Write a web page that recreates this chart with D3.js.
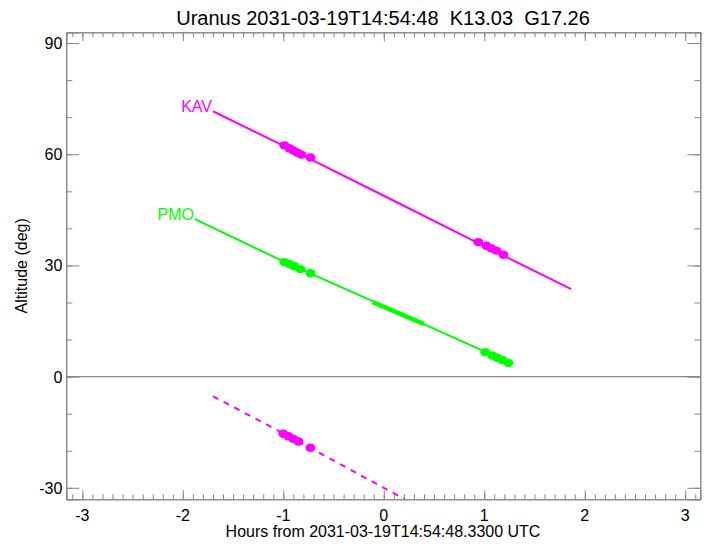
<!DOCTYPE html>
<html>
<head>
<meta charset="utf-8">
<script src="https://cdn.jsdelivr.net/npm/d3@7"></script>
<style>
  body { margin: 0; background: #fff; }
  text { font-family: "Liberation Sans", Arial, sans-serif; }
</style>
</head>
<body>
<svg></svg>
<script>
const width = 708;
const height = 544;

// values
const titleText = "Uranus 2031-03-19T14:54:48  K13.03  G17.26";
const xLabel = "Hours from 2031-03-19T14:54:48.3300 UTC";
const yLabel = "Altitude (deg)";
const xTicks = [-3, -2, -1, 0, 1, 2, 3];
const yTicks = [-30, 0, 30, 60, 90];

const kavLine = [[-1.70, 71.6], [-1.0, 62.3], [0, 48.8], [1.0, 35.2], [1.865, 23.6]];
const kavDots = [[-0.99, 62.4], [-0.94, 61.6], [-0.90, 61.0], [-0.86, 60.4], [-0.82, 59.9], [-0.73, 59.1],
                 [0.94, 36.3], [1.02, 35.3], [1.07, 34.6], [1.12, 34.0], [1.19, 32.9]];
const pmoLine = [[-1.88, 42.5], [-1.0, 31.1], [0, 19.0], [1.0, 6.8], [1.27, 3.6]];
const pmoThick = [[-0.11, 20.1], [0.40, 14.2]];
const pmoDots = [[-0.99, 30.9], [-0.94, 30.4], [-0.89, 29.8], [-0.83, 29.0], [-0.73, 27.9],
                 [1.01, 6.6], [1.08, 5.7], [1.13, 5.1], [1.18, 4.5], [1.24, 3.7]];
const belowLine = [[-1.70, -5.3], [-1.0, -15.3], [0, -30.0], [0.21, -33.1]];
const belowDots = [[-1.0, -15.4], [-0.95, -16.1], [-0.90, -16.8], [-0.85, -17.5], [-0.73, -19.2]];

const svg = d3.select("svg").attr("width", width).attr("height", height);

const x = d3.scaleLinear().domain([-3.16, 3.15]).range([66.3, 700.3]);
const y = d3.scaleLinear().domain([-33.1, 92.9]).range([499.3, 32.3]);

const axisColor = "#888";
const magenta = "#ff00ff";
const green = "#00ff00";

// clip for the plot region
svg.append("clipPath").attr("id", "clip")
  .append("rect")
  .attr("x", x.range()[0]).attr("y", y.range()[1])
  .attr("width", x.range()[1] - x.range()[0])
  .attr("height", y.range()[0] - y.range()[1]);

// axes (ticks on all four sides, pointing inward)
const xMinor = d3.range(-31, 32).map((d) => d / 10).filter((d) => d >= -3.16 && d <= 3.15);
const yMinor = d3.range(-30, 91, 10);

function tickAxis(axis, size, values) {
  return axis.tickValues(values).tickSize(size).tickFormat("");
}

const xb = svg.append("g").attr("transform", `translate(0,${y.range()[0]})`)
  .call(tickAxis(d3.axisTop(x), 5, xMinor));
xb.append("g").call(tickAxis(d3.axisTop(x), 9, xTicks));
const xt = svg.append("g").attr("transform", `translate(0,${y.range()[1]})`)
  .call(tickAxis(d3.axisBottom(x), 5, xMinor));
xt.append("g").call(tickAxis(d3.axisBottom(x), 9, xTicks));

const yl = svg.append("g").attr("transform", `translate(${x.range()[0]},0)`)
  .call(tickAxis(d3.axisRight(y), 6, yMinor));
yl.append("g").call(tickAxis(d3.axisRight(y), 13, yTicks));
const yr = svg.append("g").attr("transform", `translate(${x.range()[1]},0)`)
  .call(tickAxis(d3.axisLeft(y), 6, yMinor));
yr.append("g").call(tickAxis(d3.axisLeft(y), 13, yTicks));

svg.selectAll(".domain").attr("stroke", axisColor);
svg.selectAll(".tick line").attr("stroke", axisColor);

// tick labels
svg.selectAll(".xlab").data(xTicks).enter().append("text")
  .attr("x", (d) => x(d)).attr("y", y.range()[0] + 22)
  .attr("text-anchor", "middle").attr("font-size", 16)
  .text((d) => d);
svg.selectAll(".ylab").data(yTicks).enter().append("text")
  .attr("x", x.range()[0] - 4).attr("y", (d) => y(d) + 6)
  .attr("text-anchor", "end").attr("font-size", 16)
  .text((d) => d);

// zero line
svg.append("line")
  .attr("x1", x.range()[0]).attr("x2", x.range()[1])
  .attr("y1", y(0)).attr("y2", y(0))
  .attr("stroke", axisColor).attr("stroke-width", 1.2);

const line = d3.line().x((d) => x(d[0])).y((d) => y(d[1]));
const plot = svg.append("g").attr("clip-path", "url(#clip)");

plot.append("path").attr("d", line(kavLine))
  .attr("fill", "none").attr("stroke", magenta).attr("stroke-width", 2);
plot.append("path").attr("d", line(pmoLine))
  .attr("fill", "none").attr("stroke", green).attr("stroke-width", 2);
plot.append("path").attr("d", line(pmoThick))
  .attr("fill", "none").attr("stroke", green).attr("stroke-width", 4.5);
plot.append("path").attr("d", line(belowLine))
  .attr("fill", "none").attr("stroke", magenta).attr("stroke-width", 2)
  .attr("stroke-dasharray", "6,6");

function dots(data, color) {
  plot.append("g").selectAll("ellipse").data(data).enter().append("ellipse")
    .attr("cx", (d) => x(d[0])).attr("cy", (d) => y(d[1]))
    .attr("rx", 5).attr("ry", 4.2)
    .attr("fill", color);
}
dots(kavDots, magenta);
dots(pmoDots, green);
dots(belowDots, magenta);

// site labels
svg.append("text").attr("x", x(kavLine[0][0]) - 1).attr("y", y(kavLine[0][1]) + 1)
  .attr("text-anchor", "end").attr("font-size", 16).attr("fill", magenta).text("KAV");
svg.append("text").attr("x", x(pmoLine[0][0]) - 1).attr("y", y(pmoLine[0][1]) + 1)
  .attr("text-anchor", "end").attr("font-size", 16).attr("fill", green).text("PMO");

// titles
svg.append("text").attr("x", 383).attr("y", 25)
  .attr("text-anchor", "middle").attr("font-size", 20)
  .style("white-space", "pre").text(titleText);
svg.append("text").attr("x", 383).attr("y", 537)
  .attr("text-anchor", "middle").attr("font-size", 16).text(xLabel);
svg.append("text")
  .attr("transform", `translate(27,${(y.range()[0] + y.range()[1]) / 2}) rotate(-90)`)
  .attr("text-anchor", "middle").attr("font-size", 16).text(yLabel);
</script>
</body>
</html>
